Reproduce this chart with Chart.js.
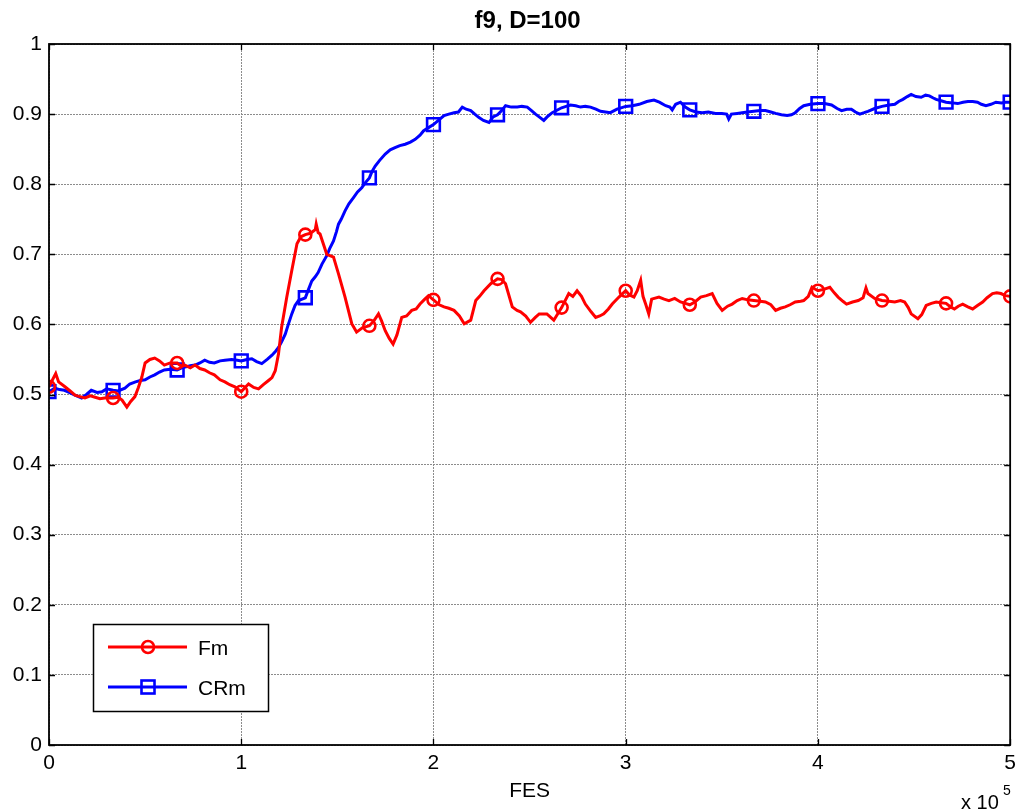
<!DOCTYPE html>
<html>
<head>
<meta charset="utf-8">
<title>f9, D=100</title>
<script src="https://cdn.jsdelivr.net/npm/chart.js@4.4.1/dist/chart.umd.min.js"></script>
<style>
  html, body { margin: 0; padding: 0; background: #ffffff; }
  #wrap { width: 1022px; height: 812px; }
  canvas { display: block; }
</style>
</head>
<body>
<div id="wrap"><canvas id="chart" width="1022" height="812"></canvas></div>
<script>
// Function evaluations at which the mean F (Fm) was recorded
const fmFes = [
  0, 2000, 3500, 5000, 8300, 11000, 13500, 16000, 18700, 21500, 24000, 26500, 29000, 33333,
  36000, 38000, 40500, 42500, 44700, 46500, 48300, 50000, 52500, 55000, 57500, 60000, 63000, 66667,
  69000, 70700, 73500, 76000, 78500, 81000, 83500, 86000, 89000, 91500, 94000, 96700, 100000,
  102000, 103800, 106500, 109000, 111500, 114200, 116000, 117700, 119400, 121000, 123700, 126300, 129000, 131000, 133333,
  136000, 138500, 139000, 140000, 141000, 144500, 148000, 150600, 154000, 157500, 160000, 163000, 166667,
  169000, 171400, 173000, 174900, 177000, 179000, 181000, 183500, 186000, 188700, 191000, 193000, 195500, 197400, 200000,
  203000, 205500, 208000, 210700, 213500, 216000, 219400, 222000, 224000, 226300, 229800, 233333,
  235500, 237500, 241000, 243500, 245300, 248000, 250500, 253000, 255000, 259000, 262600, 266667,
  270400, 272500, 274700, 277000, 279000, 282000, 284400, 286500, 288600, 291000, 293000, 296500, 300000,
  302000, 304300, 306000, 307800, 309000, 310500, 312000, 313500, 317300, 320000, 322500, 325500, 328500, 331000, 333333,
  336000, 339000, 342000, 345000, 347500, 350200, 353000, 355400, 358000, 360600, 363500, 366667,
  370000, 372700, 375500, 378000, 380500, 383000, 385500, 388200, 391000, 392600, 395000, 396900, 400000,
  403000, 406200, 408500, 410500, 413000, 414900, 418000, 421000, 423500, 425000, 426000, 429500, 433333,
  437000, 440000, 443000, 445100, 447000, 448500, 452000, 454000, 456300, 459000, 461500, 464000, 466667,
  469000, 471000, 473000, 475300, 478000, 480500, 483000, 485700, 488000, 490800, 493000, 495200, 497500, 500000
];
const fmValues = [
  0.511, 0.522, 0.530, 0.518, 0.511, 0.505, 0.499, 0.497, 0.495, 0.498, 0.496, 0.494, 0.495, 0.495,
  0.496, 0.492, 0.482, 0.490, 0.497, 0.510, 0.525, 0.545, 0.550, 0.552, 0.548, 0.542, 0.545, 0.545,
  0.540, 0.542, 0.538, 0.542, 0.537, 0.535, 0.531, 0.528, 0.521, 0.518, 0.514, 0.511, 0.504,
  0.510, 0.515, 0.510, 0.508, 0.514, 0.520, 0.524, 0.534, 0.558, 0.596, 0.639, 0.677, 0.715, 0.725, 0.728,
  0.730, 0.735, 0.743, 0.731, 0.729, 0.700, 0.696, 0.672, 0.639, 0.601, 0.589, 0.595, 0.598,
  0.605, 0.615, 0.605, 0.591, 0.580, 0.572, 0.585, 0.610, 0.612, 0.620, 0.622, 0.629, 0.636, 0.641, 0.635,
  0.628, 0.625, 0.623, 0.620, 0.612, 0.601, 0.606, 0.634, 0.640, 0.648, 0.658, 0.665,
  0.664, 0.658, 0.625, 0.620, 0.618, 0.612, 0.603, 0.610, 0.615, 0.615, 0.606, 0.624,
  0.644, 0.640, 0.648, 0.640, 0.629, 0.618, 0.610, 0.612, 0.615, 0.622, 0.629, 0.639, 0.648,
  0.642, 0.639, 0.648, 0.663, 0.640, 0.628, 0.615, 0.636, 0.639, 0.636, 0.634, 0.637, 0.632, 0.630, 0.628,
  0.632, 0.639, 0.641, 0.644, 0.630, 0.620, 0.626, 0.629, 0.634, 0.637, 0.635, 0.634,
  0.633, 0.632, 0.628, 0.620, 0.623, 0.625, 0.628, 0.632, 0.633, 0.634, 0.640, 0.653, 0.648,
  0.650, 0.653, 0.645, 0.639, 0.633, 0.629, 0.632, 0.634, 0.638, 0.652, 0.644, 0.637, 0.634,
  0.633, 0.632, 0.634, 0.632, 0.624, 0.615, 0.608, 0.614, 0.627, 0.630, 0.632, 0.631, 0.630,
  0.625, 0.622, 0.626, 0.629, 0.625, 0.622, 0.627, 0.632, 0.638, 0.644, 0.645, 0.644, 0.641, 0.640
];

// Function evaluations at which the mean CR (CRm) was recorded
const crmFes = [
  0, 3000, 5500, 8000, 10500, 13500, 17000, 19500, 22000, 25000, 27500, 30000, 33333,
  36000, 39500, 42000, 45000, 47500, 50000, 52500, 55000, 57500, 60000, 63000, 66667,
  69000, 70700, 73500, 76000, 78500, 81000, 83500, 86000, 89000, 91500, 95000, 98000, 100000,
  103000, 105500, 108000, 110700, 113500, 116000, 118000, 119400, 121000, 122900, 124500, 126300, 128000, 129800, 133333,
  135000, 136700, 138500, 140000, 142000, 144500, 146000, 148000, 149500, 150600, 152000, 154000, 156000, 158400, 160500, 162700, 164500, 166667,
  168000, 169700, 172000, 174900, 177500, 180000, 182500, 185300, 188000, 190500, 193000, 194800, 197000, 200000,
  203000, 205500, 208000, 210700, 213000, 215000, 217000, 219400, 221500, 223700, 226000, 228900, 231000, 233333,
  235500, 237500, 240500, 243600, 246000, 248800, 251000, 253100, 255000, 257400, 259500, 261800, 266667,
  269000, 271300, 274000, 276500, 279000, 281700, 284500, 286900, 289500, 292000, 295500, 300000,
  303500, 307000, 311000, 314700, 317500, 320800, 323000, 324200, 326000, 328500, 331000, 333333,
  336500, 339800, 343000, 346700, 350000, 352500, 353600, 355000, 358000, 360600, 363300, 366667,
  370000, 372700, 375500, 378000, 381000, 384000, 386200, 388200, 390500, 392600, 396000, 400000,
  403500, 407100, 410000, 412300, 415000, 417400, 419500, 421800, 424000, 426000, 429500, 433333,
  437000, 440000, 442000, 444200, 446500, 448500, 451000, 453700, 456000, 458000, 460000, 461500, 464000, 466667,
  470000, 472700, 475500, 478000, 480500, 483000, 485000, 487400, 490000, 492600, 495500, 497500, 500000
];
const crmValues = [
  0.504, 0.509, 0.507, 0.506, 0.503, 0.499, 0.495, 0.500, 0.506, 0.503, 0.504, 0.508, 0.506,
  0.505, 0.509, 0.515, 0.518, 0.520, 0.521, 0.525, 0.528, 0.532, 0.535, 0.536, 0.535,
  0.538, 0.539, 0.541, 0.542, 0.545, 0.549, 0.546, 0.545, 0.548, 0.549, 0.550, 0.549, 0.548,
  0.550, 0.551, 0.547, 0.544, 0.550, 0.556, 0.562, 0.567, 0.575, 0.586, 0.600, 0.615, 0.627, 0.634, 0.638,
  0.650, 0.662, 0.668, 0.674, 0.686, 0.698, 0.708, 0.719, 0.732, 0.743, 0.750, 0.762, 0.772, 0.781, 0.789, 0.795, 0.802, 0.809,
  0.818, 0.826, 0.834, 0.843, 0.849, 0.852, 0.855, 0.857, 0.860, 0.864, 0.870, 0.876, 0.880, 0.885,
  0.892, 0.898, 0.900, 0.902, 0.903, 0.910, 0.907, 0.905, 0.900, 0.895, 0.891, 0.888, 0.896, 0.899,
  0.905, 0.912, 0.910, 0.910, 0.911, 0.910, 0.905, 0.900, 0.896, 0.891, 0.897, 0.902, 0.909,
  0.911, 0.913, 0.912, 0.910, 0.911, 0.910, 0.907, 0.904, 0.903, 0.902, 0.907, 0.911,
  0.912, 0.914, 0.918, 0.920, 0.917, 0.912, 0.910, 0.906, 0.914, 0.917, 0.910, 0.906,
  0.903, 0.902, 0.903, 0.901, 0.901, 0.900, 0.893, 0.900, 0.901, 0.902, 0.903, 0.904,
  0.905, 0.905, 0.903, 0.901, 0.899, 0.898, 0.899, 0.902, 0.908, 0.912, 0.914, 0.915,
  0.915, 0.913, 0.908, 0.905, 0.907, 0.907, 0.903, 0.900, 0.902, 0.904, 0.908, 0.911,
  0.913, 0.914, 0.918, 0.921, 0.925, 0.928, 0.925, 0.924, 0.927, 0.926, 0.923, 0.921, 0.919, 0.917,
  0.916, 0.915, 0.917, 0.918, 0.918, 0.917, 0.914, 0.912, 0.914, 0.917, 0.916, 0.917, 0.917
];

const xTickValues = [0, 100000, 200000, 300000, 400000, 500000];
const yTickValues = [0, 0.1, 0.2, 0.3, 0.4, 0.5, 0.6, 0.7, 0.8, 0.9, 1];

const seriesNames = ['Fm', 'CRm'];
const seriesColors = ['#ff0000', '#0000ff'];
const markerShapes = ['circle', 'rect'];

const FONT = "'Liberation Sans', Arial, Helvetica, sans-serif";
const MARKER_STEP = 100000 / 3;   // a marker every 1/15 of the run

function isMarker(fes) {
  const k = fes / MARKER_STEP;
  return Math.abs(k - Math.round(k)) < 0.002;
}
function toPoints(xs, ys) { return xs.map((x, i) => ({ x: x, y: ys[i] })); }

function lineDataset(idx, xs, ys) {
  return {
    label: seriesNames[idx],
    data: toPoints(xs, ys),
    borderColor: seriesColors[idx],
    backgroundColor: 'rgba(0,0,0,0)',
    borderWidth: 3,
    borderJoinStyle: 'miter',
    tension: 0,
    pointStyle: markerShapes[idx],
    pointRadius: c => (c.raw && isMarker(c.raw.x)) ? (idx === 0 ? 6 : 9) : 0,
    pointBorderWidth: 2.6,
    pointBorderColor: seriesColors[idx],
    pointBackgroundColor: 'rgba(0,0,0,0)',
    pointHoverRadius: 0
  };
}

// Frame, inner tick marks, title, exponent note and legend
const decorations = {
  id: 'decorations',
  afterDatasetsDraw(chart) {
    const { ctx, chartArea: a, scales } = chart;
    ctx.save();
    // axes box
    ctx.strokeStyle = '#000';
    ctx.lineWidth = 1.8;
    ctx.strokeRect(a.left, a.top, a.right - a.left, a.bottom - a.top);
    // inner tick marks
    ctx.lineWidth = 1.3;
    ctx.beginPath();
    const tl = 6;
    xTickValues.forEach(v => {
      const px = Math.round(scales.x.getPixelForValue(v)) + 0.5;
      ctx.moveTo(px, a.bottom); ctx.lineTo(px, a.bottom - tl);
      ctx.moveTo(px, a.top); ctx.lineTo(px, a.top + tl);
    });
    yTickValues.forEach(v => {
      const py = Math.round(scales.y.getPixelForValue(v)) + 0.5;
      ctx.moveTo(a.left, py); ctx.lineTo(a.left + tl, py);
      ctx.moveTo(a.right, py); ctx.lineTo(a.right - tl, py);
    });
    ctx.stroke();

    // title
    ctx.fillStyle = '#000';
    ctx.textAlign = 'center';
    ctx.textBaseline = 'alphabetic';
    ctx.font = 'bold 24px ' + FONT;
    ctx.fillText('f9, D=100', (a.left + a.right) / 2 - 2, 28);

    // exponent note under the x axis
    ctx.textAlign = 'left';
    ctx.font = '20px ' + FONT;
    ctx.fillText('x 10', 961, 809);
    ctx.font = '14px ' + FONT;
    ctx.fillText('5', 1003, 795);

    // legend
    const lx = 93, ly = 624, lw = 175, lh = 87;
    ctx.fillStyle = '#fff';
    ctx.fillRect(lx, ly, lw, lh);
    ctx.strokeStyle = '#000';
    ctx.lineWidth = 1.5;
    ctx.strokeRect(lx + 0.5, ly + 0.5, lw, lh);
    const rows = [647, 687];
    rows.forEach((ry, i) => {
      ctx.strokeStyle = seriesColors[i];
      ctx.lineWidth = 3;
      ctx.beginPath();
      ctx.moveTo(108, ry); ctx.lineTo(187, ry);
      ctx.stroke();
      ctx.lineWidth = 2.6;
      if (i === 0) {
        ctx.beginPath(); ctx.arc(148, ry, 6, 0, Math.PI * 2); ctx.stroke();
      } else {
        ctx.strokeRect(148 - 6.5, ry - 6.5, 13, 13);
      }
      ctx.fillStyle = '#000';
      ctx.font = '21px ' + FONT;
      ctx.textAlign = 'left';
      ctx.textBaseline = 'middle';
      ctx.fillText(seriesNames[i], 198, ry + 2);
    });
    ctx.restore();
  }
};

new Chart(document.getElementById('chart'), {
  type: 'line',
  data: {
    datasets: [
      lineDataset(0, fmFes, fmValues),
      lineDataset(1, crmFes, crmValues)
    ]
  },
  options: {
    responsive: false,
    animation: false,
    events: [],
    layout: { padding: { left: 0, right: 11, top: 44, bottom: 0 } },
    plugins: {
      legend: { display: false },
      title: { display: false },
      tooltip: { enabled: false }
    },
    scales: {
      x: {
        type: 'linear',
        min: 0,
        max: 500000,
        afterFit: s => { s.height = 67; },
        afterBuildTicks: s => { s.ticks = xTickValues.map(v => ({ value: v })); },
        ticks: {
          autoSkip: false,
          maxRotation: 0,
          padding: 6,
          color: '#000',
          font: { family: FONT, size: 21 },
          callback: v => String(v / 100000)
        },
        grid: { color: '#8c8c8c', lineWidth: 1, drawTicks: false },
        border: { display: false, dash: [2, 1] },
        title: {
          display: true,
          text: 'FES',
          color: '#000',
          font: { family: FONT, size: 21 },
          padding: { top: 0, bottom: 8 }
        }
      },
      y: {
        min: 0,
        max: 1,
        afterFit: s => { s.width = 49; },
        afterBuildTicks: s => { s.ticks = yTickValues.map(v => ({ value: v })); },
        ticks: {
          autoSkip: false,
          padding: 7,
          color: '#000',
          font: { family: FONT, size: 21 },
          callback: v => (v === 0 || v === 1) ? String(v) : v.toFixed(1)
        },
        grid: { color: '#8c8c8c', lineWidth: 1, drawTicks: false },
        border: { display: false, dash: [2, 1] }
      }
    }
  },
  plugins: [decorations]
});
</script>
</body>
</html>
